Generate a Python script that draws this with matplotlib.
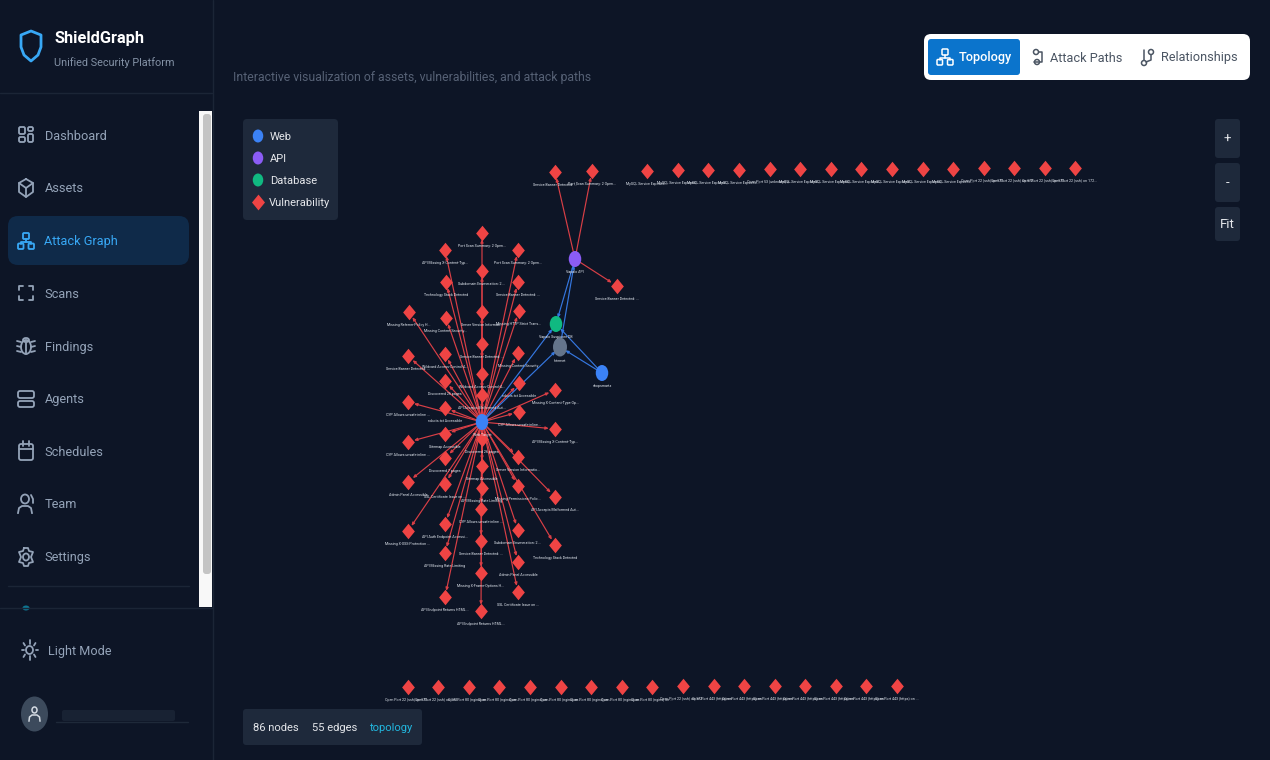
import matplotlib
matplotlib.use("Agg")
import matplotlib.pyplot as plt
from matplotlib.patches import Ellipse, FancyBboxPatch, Rectangle, Polygon

plt.rcParams['font.family'] = ['Roboto', 'DejaVu Sans']

BG = "#0d1526"
PANEL = "#1e293b"
RED = "#ef4444"
EDGE_RED = "#d93f46"
BLUE = "#3b82f6"
GREY_TEXT = "#94a3b8"

# hosts: name -> x, y, colour
host_names = ["web", "api", "db", "internet", "shop"]
host_x = [482, 575, 556, 560, 602]
host_y = [422, 259, 324, 347, 373]
host_colors = [BLUE, "#8b5cf6", "#10b981", "#64748b", BLUE]
host_labels = ["Web Target", "Vapalo API", "Vapalo Suspicore DB", "Internet", "shopsmartz"]

host_edges = [("web", "db"), ("web", "internet"), ("internet", "api"),
              ("api", "db"), ("shop", "db"), ("shop", "internet")]

# vulnerabilities around the web host
web_vuln_x = [482, 445, 518, 482, 446, 518, 409, 482, 446, 519, 482, 445, 518, 408, 482, 445,
              519, 555, 482, 408, 445, 519, 555, 408, 445, 482, 445, 518, 482, 408, 445, 518,
              482, 555, 481, 408, 445, 518, 481, 555, 445, 518, 481, 518, 445, 481]
web_vuln_y = [233, 250, 250, 271, 282, 282, 312, 312, 318, 311, 344, 354, 353, 356, 374, 381,
              383, 390, 395, 402, 408, 412, 429, 442, 434, 439, 458, 457, 466, 482, 484, 486,
              488, 497, 509, 531, 524, 530, 541, 545, 553, 562, 573, 592, 597, 611]
web_vuln_labels = [
    "Port Scan Summary: 2 Open...", "API Missing X-Content-Typ...", "Port Scan Summary: 2 Open...",
    "Subdomain Enumeration: 2 ...", "Technology Stack Detected", "Service Banner Detected: ...",
    "Missing Referrer-Policy H...", "Server Version Informati...", "Missing Content Security...",
    "Missing HTTP Strict Trans...", "Service Banner Detected: ...", "Wildcard Access-Control-A...",
    "Missing Content Security", "Service Banner Detected: ...", "Wildcard Access-Control-A...",
    "Discovered 26 pages", "robots.txt Accessible", "Missing X-Content-Type-Op...",
    "API Accepts Malformed Aut...", "CSP Allows unsafe-inline ...", "robots.txt Accessible",
    "CSP Allows unsafe-inline...", "API Missing X-Content-Typ...", "CSP Allows unsafe-inline ...",
    "Sitemap Accessible", "Discovered 26 pages", "Discovered 7 pages",
    "Server Version Informatio...", "Sitemap Accessible", "Admin Panel Accessible",
    "SSL Certificate Issue on ...", "Missing Permissions-Polic...", "API Missing Rate Limiting",
    "API Accepts Malformed Aut...", "CSP Allows unsafe-inline ...", "Missing X-XSS-Protection ...",
    "API Auth Endpoint Accessi...", "Subdomain Enumeration: 2 ...", "Service Banner Detected: ...",
    "Technology Stack Detected", "API Missing Rate Limiting", "Admin Panel Accessible",
    "Missing X-Frame-Options H...", "SSL Certificate Issue on ...", "API Endpoint Returns HTML...",
    "API Endpoint Returns HTML...",
]

# vulnerabilities linked to the api host
api_vuln_x = [555, 592, 617]
api_vuln_y = [172, 171, 286]
api_vuln_labels = ["Service Banner Detected: ...", "Port Scan Summary: 2 Open...", "Service Banner Detected: ..."]

# unconnected rows
top_x = [647, 678, 708, 739, 770, 800, 831, 861, 892, 923, 953, 984, 1014, 1045, 1075]
top_y = [171, 170, 170, 170, 169, 169, 169, 169, 169, 169, 169, 168, 168, 168, 168]
top_labels = ["MySQL Service Exposed ..."] * 4 + ["Open Port 53 (unknown) o..."] + \
             ["MySQL Service Exposed ..."] * 6 + ["Open Port 22 (ssh) on 172..."] * 4

bottom_x = [408, 438, 469, 499, 530, 561, 591, 622, 652, 683, 714, 744, 775, 805, 836, 866, 897]
bottom_y = [687, 687, 687, 687, 687, 687, 687, 687, 687, 686, 686, 686, 686, 686, 686, 686, 686]
bottom_labels = ["Open Port 22 (ssh) on 172..."] * 2 + ["Open Port 80 (nginx) on ..."] * 7 + \
                ["Open Port 22 (ssh) on 172..."] + ["Open Port 443 (https) on ..."] * 7

nav_items = ["Dashboard", "Assets", "Attack Graph", "Scans", "Findings",
             "Agents", "Schedules", "Team", "Settings"]
nav_y = [135, 188, 241, 293, 346, 399, 451, 504, 557]

legend_names = ["Web", "API", "Database", "Vulnerability"]
legend_colors = [BLUE, "#8b5cf6", "#10b981", RED]
legend_y = [136, 158, 180, 202]

node_count = 86
edge_count = 55

DIAMOND = [(0, -1), (0.82, 0), (0, 1), (-0.82, 0)]

fig = plt.figure(figsize=(12.7, 7.6), dpi=100, facecolor=BG)
ax = fig.add_axes([0, 0, 1, 1])
ax.set_xlim(0, 1270)
ax.set_ylim(760, 0)
ax.axis("off")


def box(x0, y0, x1, y1, color, r=4, z=1):
    ax.add_patch(FancyBboxPatch((x0, y0), x1 - x0, y1 - y0, boxstyle=f"round,pad=0,rounding_size={r}",
                                fc=color, ec="none", zorder=z))


def stroke(xs, ys, color, lw=1.3, z=3):
    ax.plot(xs, ys, color=color, lw=lw, zorder=z, solid_capstyle="round", solid_joinstyle="round")


def ring(x, y, w, h, color, lw=1.3, fill="none", z=3):
    ax.add_patch(Ellipse((x, y), w, h, fc=fill, ec=color, lw=lw, zorder=z))


def outline(x0, y0, x1, y1, color, r=1.5, lw=1.3):
    ax.add_patch(FancyBboxPatch((x0, y0), x1 - x0, y1 - y0, boxstyle=f"round,pad=0,rounding_size={r}",
                                fc="none", ec=color, lw=lw, zorder=3))


def tree_icon(x, y, color, lw=1.3):
    outline(x - 3, y - 8, x + 3, y - 2, color, 1, lw)
    outline(x - 8, y + 2.5, x - 2.5, y + 8, color, 1, lw)
    outline(x + 2.5, y + 2.5, x + 8, y + 8, color, 1, lw)
    stroke([x, x], [y - 2, y + 0.5], color, lw)
    stroke([x - 5, x - 5, x + 5, x + 5], [y + 2.5, y + 0.5, y + 0.5, y + 2.5], color, lw)


# sidebar
ax.add_patch(Rectangle((199, 111), 13, 496, fc="#f8f8f8", ec="none", zorder=1))
box(203, 114, 211, 574, "#c4c4c4", 3, z=2)
stroke([212.5, 212.5], [0, 760], "#1b2536", 1, 2)
stroke([0, 212], [93, 93], "#1b2536", 1, 2)
stroke([0, 212], [607.5, 607.5], "#1b2536", 1, 4)
stroke([8, 189], [586, 586], "#1b2536", 1, 2)
ax.add_patch(Ellipse((26, 608), 7, 5, fc="#0e7490", ec="none", zorder=1))
box(8, 216, 189, 265, "#0f2a49", 10)

shield_x = [31, 41, 41, 38, 31, 24, 21, 21]
shield_y = [31, 35, 47, 55, 61, 55, 47, 35]
ax.add_patch(Polygon(list(zip(shield_x, shield_y)), closed=True, fc="none", ec="#38a8f5", lw=2, joinstyle="round", zorder=3))
ax.text(54.5, 39, "ShieldGraph", color="white", fontsize=11.8, fontweight="bold", va="center", zorder=5)
ax.text(54.5, 62.5, "Unified Security Platform", color="#8391a5", fontsize=7.8, va="center", zorder=5)

for name, y in zip(nav_items, nav_y):
    col = "#38a8f5" if name == "Attack Graph" else GREY_TEXT
    ax.text(44.5, y + 1, name, color=col, fontsize=9.2, va="center", zorder=5)
    cx = 26
    if name == "Dashboard":
        outline(19, y - 8, 25, y - 1, col)
        outline(28, y - 8, 33, y - 4, col)
        outline(19, y + 2, 25, y + 7, col)
        outline(28, y - 1, 33, y + 7, col)
    elif name == "Assets":
        pts_x = [cx, cx + 7, cx + 7, cx, cx - 7, cx - 7, cx]
        pts_y = [y - 9, y - 5, y + 4, y + 9, y + 4, y - 5, y - 9]
        stroke(pts_x, pts_y, col)
        stroke([cx - 7, cx, cx + 7], [y - 5, y, y - 5], col)
        stroke([cx, cx], [y, y + 9], col)
    elif name == "Attack Graph":
        tree_icon(cx, y, col)
    elif name == "Scans":
        for sx in (-1, 1):
            for sy in (-1, 1):
                stroke([cx + sx * 7, cx + sx * 7, cx + sx * 3], [y + sy * 3, y + sy * 7, y + sy * 7], col)
    elif name == "Findings":
        ring(cx, y + 1, 10, 14, col)
        ring(cx, y - 6, 6, 4, col)
        for dy in (-4, 1, 6):
            stroke([cx - 9, cx - 5], [y + dy - 1, y + dy], col)
            stroke([cx + 5, cx + 9], [y + dy, y + dy - 1], col)
        stroke([cx, cx], [y - 3, y + 8], col)
    elif name == "Agents":
        outline(cx - 8, y - 8, cx + 8, y - 1, col, 2)
        outline(cx - 8, y + 2, cx + 8, y + 8, col, 2)
    elif name == "Schedules":
        outline(cx - 7, y - 7, cx + 7, y + 9, col, 2)
        stroke([cx - 7, cx + 7], [y - 2, y - 2], col)
        stroke([cx - 3, cx - 3], [y - 10, y - 5], col)
        stroke([cx + 3, cx + 3], [y - 10, y - 5], col)
    elif name == "Team":
        ring(cx - 1, y - 5, 8, 9, col)
        ax.plot([cx - 8, cx - 7, cx - 4, cx + 2, cx + 5, cx + 6], [y + 9, y + 4, y + 2, y + 2, y + 4, y + 9],
                color=col, lw=1.3, zorder=3)
        stroke([cx + 5, cx + 7, cx + 7], [y - 9, y - 5, y - 1], col)
    elif name == "Settings":
        ring(cx, y, 6, 7, col)
        hex_x = [cx - 2, cx + 2, cx + 3, cx + 7, cx + 5, cx + 7, cx + 3, cx + 2, cx - 2, cx - 3, cx - 7, cx - 5, cx - 7, cx - 3, cx - 2]
        hex_y = [y - 9, y - 9, y - 6, y - 5, y, y + 5, y + 6, y + 9, y + 9, y + 6, y + 5, y, y - 5, y - 6, y - 9]
        stroke(hex_x, hex_y, col)

# light mode and user
ring(29.5, 650, 7, 8, GREY_TEXT)
for dx, dy, ex, ey in [(0, -6, 0, -10), (0, 6, 0, 10), (-6, 0, -8, 0), (6, 0, 8, 0),
                       (-4.5, -4.5, -6, -7), (4.5, -4.5, 6, -7), (-4.5, 4.5, -6, 7), (4.5, 4.5, 6, 7)]:
    stroke([29.5 + dx, 29.5 + ex], [650 + dy, 650 + ey], GREY_TEXT)
ax.text(48, 651, "Light Mode", color=GREY_TEXT, fontsize=9.1, va="center", zorder=5)
ax.add_patch(Ellipse((34.5, 714), 27, 35, fc="#3c4a5c", ec="none", zorder=2))
ring(34.5, 710, 5, 6, "#d5dbe3", 1.1)
ax.plot([29, 29.5, 32, 37, 39.5, 40], [721, 717, 715, 715, 717, 721], color="#d5dbe3", lw=1.1, zorder=3)
box(62, 710, 175, 721, "#182233", 2)
stroke([56, 188], [722, 722], "#1e2939", 1, 2)

# header
ax.text(233, 78, "Interactive visualization of assets, vulnerabilities, and attack paths",
        color="#566175", fontsize=8.85, va="center", zorder=5)
box(924, 34, 1250, 80, "white", 7)
box(928, 39, 1020, 75, "#0b74cc", 3, z=2)
tree_icon(945, 57, "white", 1.1)
ax.text(958.5, 58, "Topology", color="white", fontsize=9.2, fontweight="medium", va="center", zorder=5)
ring(1036, 52, 5, 5, "#4b5563", 1.1)
ring(1037, 62, 5, 5, "#4b5563", 1.1)
stroke([1038.5, 1042, 1042, 1034], [52, 52, 62, 62], "#4b5563", 1.1)
ax.text(1050, 58, "Attack Paths", color="#4b5563", fontsize=9.2, va="center", zorder=5)
ring(1144, 63, 5, 5, "#4b5563", 1.1)
ring(1151, 52, 5, 5, "#4b5563", 1.1)
stroke([1144, 1144], [50, 60], "#4b5563", 1.1)
stroke([1146, 1151, 1151], [62, 60, 55], "#4b5563", 1.1)
ax.text(1161, 58, "Relationships", color="#4b5563", fontsize=9.2, va="center", zorder=5)

# zoom buttons
button_text = ["+", "-", "Fit"]
button_top = [119, 163, 207]
button_bottom = [158, 202, 241]
button_text_y = [139, 183, 224.5]
for t, y0, y1, ty in zip(button_text, button_top, button_bottom, button_text_y):
    box(1215, y0, 1240, y1, PANEL, 3)
    ax.text(1227.5, ty, t, color="#e5e7eb", fontsize=9.5, ha="center", va="center", zorder=5)

# legend
box(243, 119, 338, 220, PANEL, 4)
for name, c, y in zip(legend_names, legend_colors, legend_y):
    if name == "Vulnerability":
        ax.scatter([257.5], [y], s=130, marker=DIAMOND, c=c, linewidths=0, zorder=5)
        tx = 268.5
    else:
        ax.add_patch(Ellipse((258, y), 10.5, 13, fc=c, ec="none", zorder=5))
        tx = 270
    ax.text(tx, y + 1, name, color="#e5e7eb", fontsize=8, va="center", zorder=5)

# stats bar
box(243, 709, 422, 745, PANEL, 3)
ax.text(253, 728, f"{node_count} nodes", color="#e5e7eb", fontsize=8, va="center", zorder=5)
ax.text(311.5, 728, f"{edge_count} edges", color="#e5e7eb", fontsize=8, va="center", zorder=5)
ax.text(369.5, 728, "topology", color="#22b8e0", fontsize=8, va="center", zorder=5)


# graph edges
def arrow(x0, y0, x1, y1, color):
    ax.annotate("", xy=(x1, y1), xytext=(x0, y0), zorder=2,
                arrowprops=dict(arrowstyle="-|>,head_length=0.45,head_width=0.2", color=color, lw=0.85,
                                shrinkA=4, shrinkB=4.5, mutation_scale=4))


pos = {n: (x, y) for n, x, y in zip(host_names, host_x, host_y)}
for x, y in zip(web_vuln_x, web_vuln_y):
    arrow(*pos["web"], x, y, EDGE_RED)
for x, y in zip(api_vuln_x, api_vuln_y):
    arrow(*pos["api"], x, y, EDGE_RED)
for a, b in host_edges:
    arrow(*pos[a], *pos[b], "#3577e0")

# graph nodes
vuln_x = web_vuln_x + api_vuln_x + top_x + bottom_x
vuln_y = web_vuln_y + api_vuln_y + top_y + bottom_y
vuln_labels = web_vuln_labels + api_vuln_labels + top_labels + bottom_labels
ax.scatter(vuln_x, vuln_y, s=125, marker=DIAMOND, c=RED, linewidths=0, zorder=4)
for x, y, t in zip(vuln_x, vuln_y, vuln_labels):
    ax.text(x, y + 13, t, color="#e2e8f0", fontsize=2.6, ha="center", va="center", zorder=6)

for x, y, c, t, name in zip(host_x, host_y, host_colors, host_labels, host_names):
    w, h = (14, 19) if name == "internet" else (12.5, 16)
    ax.add_patch(Ellipse((x, y), w, h, fc=c, ec="none", zorder=5))
    ax.text(x, y + h / 2 + 5, t, color="#e2e8f0", fontsize=2.6, ha="center", va="center", zorder=6)

fig.savefig("out.png", dpi=100, facecolor=BG)
